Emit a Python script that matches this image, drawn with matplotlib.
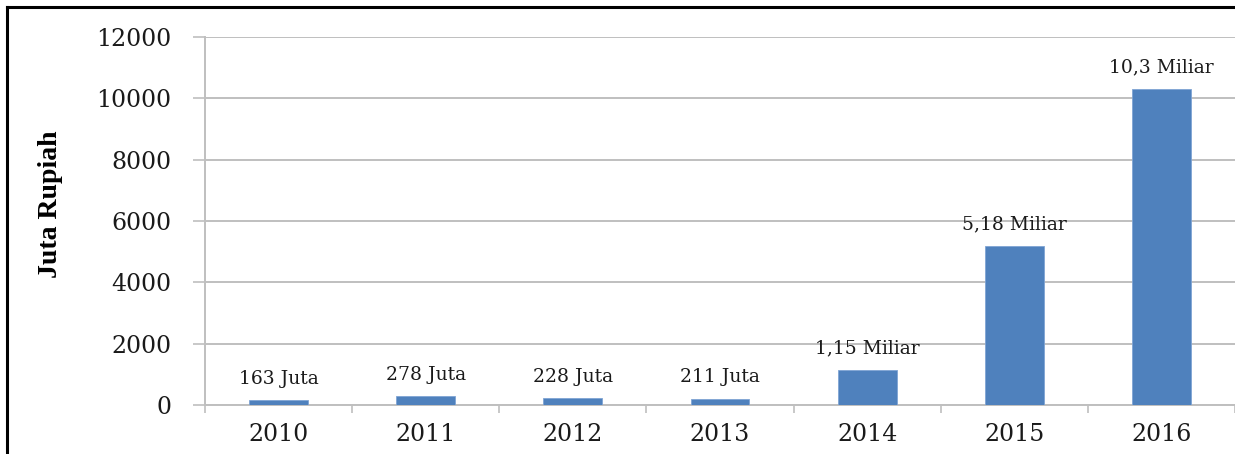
import matplotlib
matplotlib.use("Agg")
import matplotlib.pyplot as plt
from matplotlib.lines import Line2D
import numpy as np

# data
years = ["2010", "2011", "2012", "2013", "2014", "2015", "2016"]
values = [163, 278, 228, 211, 1150, 5180, 10300]   # juta rupiah
bar_labels = ["163 Juta", "278 Juta", "228 Juta", "211 Juta",
              "1,15 Miliar", "5,18 Miliar", "10,3 Miliar"]
y_ticks = [0, 2000, 4000, 6000, 8000, 10000, 12000]

W, H = 1235, 454
fig = plt.figure(figsize=(W / 100, H / 100), dpi=100)
ax = fig.add_axes([205 / W, 1 - 405 / H, 1 - 205 / W, (405 - 37) / H])

serif = "DejaVu Serif"
grid_col = "#bfbfbf"

x = np.arange(len(years))
bars = ax.bar(x, values, width=0.4, color="#4f81bd", edgecolor="#7fa4d4",
              linewidth=0.6, zorder=3)

for b, lab in zip(bars, bar_labels):
    ax.annotate(lab, (b.get_x() + b.get_width() / 2, b.get_height()),
                xytext=(0, 9), textcoords="offset points", ha="center",
                va="bottom", fontsize=13.5, family=serif, color="#1a1a1a")

ax.set_xlim(-0.5, len(years) - 0.5)
ax.set_ylim(0, 12000)
ax.set_yticks(y_ticks)
ax.set_yticklabels([str(v) for v in y_ticks], family=serif, fontsize=17,
                   color="#1a1a1a")
ax.set_xticks(x)
ax.set_xticklabels(years, family=serif, fontsize=17, color="#1a1a1a")
ax.set_xticks(np.arange(-0.5, len(years)), minor=True)

ax.tick_params(axis="y", length=9, width=1.2, color=grid_col, pad=15)
ax.tick_params(axis="x", which="major", length=0, pad=13)
ax.tick_params(axis="x", which="minor", length=6, width=1.2, color=grid_col)

ax.yaxis.grid(True, color=grid_col, linewidth=1.4, zorder=0)
ax.set_axisbelow(True)
for s in ["top", "right"]:
    ax.spines[s].set_visible(False)
for s in ["left", "bottom"]:
    ax.spines[s].set_color(grid_col)
    ax.spines[s].set_linewidth(1.4)

ax.set_ylabel("Juta Rupiah", family="Liberation Serif", fontweight="bold",
              fontsize=20, color="black", va="center")
ax.yaxis.set_label_coords(-155 / (1235 - 205), 0.545)

# outer frame (left and top visible)
fig.add_artist(Line2D([7 / W, 7 / W], [0, 1 - 7 / H], transform=fig.transFigure,
                      color="black", linewidth=2.2))
fig.add_artist(Line2D([7 / W, 1], [1 - 7 / H, 1 - 7 / H], transform=fig.transFigure,
                      color="black", linewidth=2.2))

fig.savefig("out.png", dpi=100, facecolor="white")
